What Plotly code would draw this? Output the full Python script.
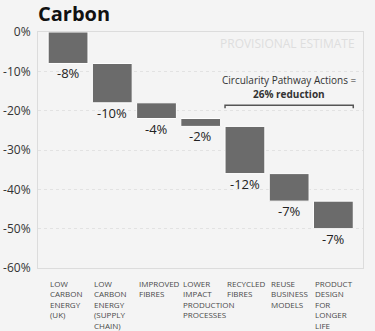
import numpy as np
import plotly.graph_objects as go

categories = ["LOW<br>CARBON<br>ENERGY<br>(UK)", "LOW<br>CARBON<br>ENERGY<br>(SUPPLY<br>CHAIN)",
              "IMPROVED<br>FIBRES", "LOWER<br>IMPACT<br>PRODUCTION<br>PROCESSES",
              "RECYCLED<br>FIBRES", "REUSE<br>BUSINESS<br>MODELS", "PRODUCT<br>DESIGN<br>FOR<br>LONGER<br>LIFE"]
values = [-8, -10, -4, -2, -12, -7, -7]
yticks = [0, -10, -20, -30, -40, -50, -60]

bases = np.concatenate([[0], np.cumsum(values)[:-1]])
xs = list(range(len(values)))

fig = go.Figure()
fig.add_trace(go.Bar(x=xs, y=values, base=bases, width=0.9,
                     marker=dict(color="#6b6b6b", line=dict(color="white", width=1)),
                     hoverinfo="skip"))

font = "Open Sans"
# value labels under each bar
for i, v in enumerate(values):
    fig.add_annotation(x=i, y=bases[i] + v, text=f"{v}%", showarrow=False,
                       yanchor="top", yshift=1, font=dict(family=font, size=13, color="#222"))

# category labels, left aligned under each bar
for i, c in enumerate(categories):
    fig.add_annotation(x=i - 0.45, y=-0.035, yref="paper", text=c, showarrow=False,
                       xanchor="left", yanchor="top", align="left",
                       font=dict(family=font, size=8, color="#4a4a4a"))

fig.add_annotation(x=1, xref="paper", xanchor="right", xshift=-6, y=-2.8, text="PROVISIONAL ESTIMATE",
                   showarrow=False, font=dict(family=font, size=12, color="#dedede"))
fig.add_annotation(x=5, y=-12.3, text="Circularity Pathway Actions =",
                   showarrow=False, font=dict(family=font, size=10, color="#333"))
fig.add_annotation(x=5, y=-15.7, text="<b>26% reduction</b>",
                   showarrow=False, font=dict(family=font, size=10, color="#333"))
fig.add_shape(type="path", path="M 3.55,-19.4 L 3.55,-18.6 L 6.45,-18.6 L 6.45,-19.4",
              line=dict(color="#555", width=1.5))

fig.update_xaxes(range=[-0.68, 6.67], showticklabels=False, showgrid=False, zeroline=False,
                 showline=True, mirror=True, linecolor="#dcdcdc", automargin=False)
fig.update_yaxes(range=[-60, 0], tickvals=yticks, ticktext=[f"{t}%" for t in yticks],
                 showgrid=True, gridcolor="#e2e2e2", griddash="dot", zeroline=False,
                 showline=True, mirror=True, linecolor="#dcdcdc", automargin=False,
                 tickfont=dict(family=font, size=12, color="#333"), ticks="", ticklabelstandoff=4)

fig.update_layout(width=375, height=331, margin=dict(l=38, r=12, t=32, b=63),
                  paper_bgcolor="#f4f4f4", plot_bgcolor="#f4f4f4", showlegend=False,
                  title=dict(text="<b>Carbon</b>", x=0, xref="paper", xanchor="left", y=0.98, yanchor="top",
                             font=dict(family=font, size=20, color="#111")))

# drop the browser's default body margin so the figure sits at the page corner
fig.write_html("out.html", config={"displayModeBar": False},
               post_script="document.body.style.margin='0';")
